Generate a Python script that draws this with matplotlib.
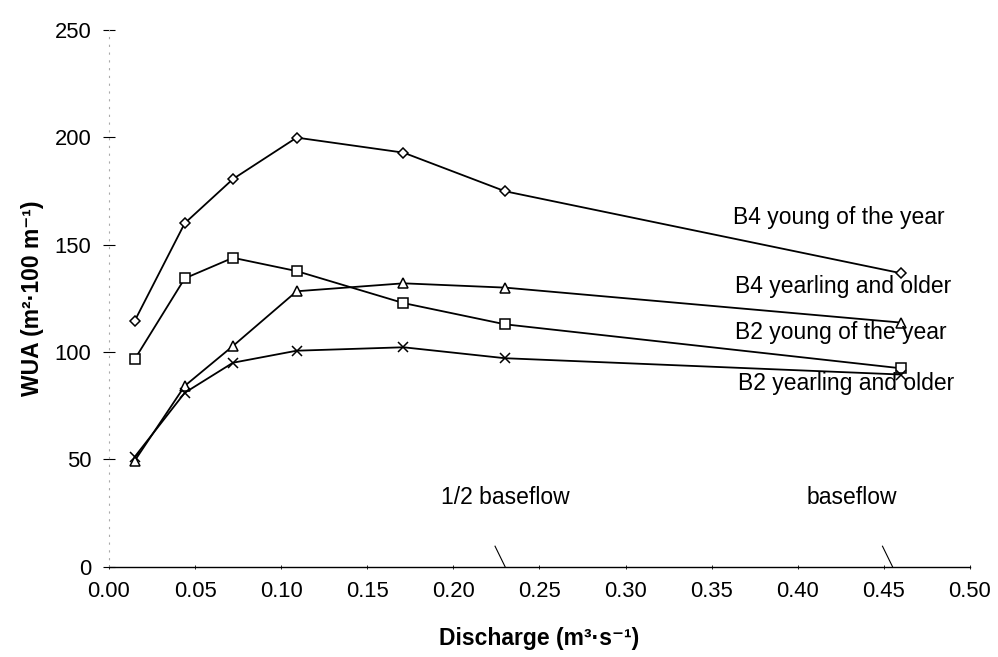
import matplotlib
matplotlib.use('Agg')
import matplotlib.pyplot as plt
import numpy as np

plt.rcParams['font.family'] = ['Liberation Sans', 'DejaVu Sans']

# discharge values (m3/s)
discharge = [0.015, 0.044, 0.072, 0.109, 0.171, 0.23, 0.46]

# WUA
b4_yoy = [114.6, 160.0, 180.6, 199.9, 192.9, 174.9, 136.7]
b2_yoy = [96.7, 134.3, 143.9, 137.7, 122.8, 112.9, 92.4]
b4_yearling = [49.4, 84.2, 102.8, 128.3, 132.0, 130.0, 113.7]
b2_yearling = [51.2, 81.0, 95.0, 100.6, 102.2, 97.1, 89.5]

series_labels = ['B4 young of the year', 'B4 yearling and older',
                 'B2 young of the year', 'B2 yearling and older']
baseflow_marks = [0.23, 0.455]
baseflow_labels = ['1/2 baseflow', 'baseflow']

xticks = np.arange(0, 0.501, 0.05)
yticks = [0, 50, 100, 150, 200, 250]

fig = plt.figure(figsize=(9.98, 6.57), dpi=100)
ax = fig.add_axes([0.1092, 0.1376, 0.8627, 0.8166])

kw = dict(color='black', lw=1.3, mfc='white', mec='black', mew=1.1)
ax.plot(discharge, b4_yoy, marker='D', ms=5, **kw)
ax.plot(discharge, b2_yoy, marker='s', ms=6.5, **kw)
ax.plot(discharge, b4_yearling, marker='^', ms=6.5, **kw)
ax.plot(discharge, b2_yearling, marker='x', ms=6.5, **kw)

fs = 16.5
ax.text(0.3624, 162.9, series_labels[0], fontsize=fs, va='center', ha='left')
ax.text(0.3635, 130.3, series_labels[1], fontsize=fs, va='center', ha='left')
ax.text(0.3635, 109.3, series_labels[2], fontsize=fs, va='center', ha='left')
ax.text(0.3653, 85.5, series_labels[3], fontsize=fs, va='center', ha='left')

ax.text(0.23, 32.4, baseflow_labels[0], fontsize=fs, va='center', ha='center')
ax.text(0.4315, 32.4, baseflow_labels[1], fontsize=fs, va='center', ha='center')
for m in baseflow_marks:
    ax.plot([m - 0.0058, m], [9.5, 0], color='black', lw=0.8, clip_on=False)

ax.set_xlim(0, 0.5)
ax.set_ylim(0, 250)
ax.set_xticks(xticks)
ax.set_xticklabels(['%.2f' % t for t in xticks])
ax.set_yticks(yticks)

for s in ['top', 'right']:
    ax.spines[s].set_visible(False)
ax.spines['bottom'].set_linewidth(1.0)
ax.spines['left'].set_color('#aaaaaa')
ax.spines['left'].set_linestyle((0, (1, 6)))
ax.spines['left'].set_linewidth(0.8)

ax.tick_params(axis='x', direction='inout', length=3, width=0.6,
               labelsize=15.8, pad=9)
ax.tick_params(axis='y', direction='inout', length=9, width=0.8,
               labelsize=15.8, pad=8)

ax.set_xlabel('Discharge (m³·s⁻¹)', fontsize=16.5, fontweight='bold', labelpad=18)
ax.set_ylabel('WUA (m²·100 m⁻¹)', fontsize=16.5, fontweight='bold', labelpad=8)

plt.savefig('out.png', dpi=100)
